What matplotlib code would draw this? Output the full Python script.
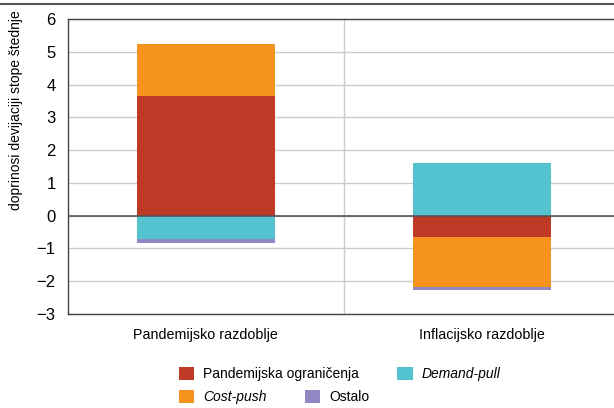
import numpy as np
import matplotlib.pyplot as plt

plt.rcParams['font.family'] = ['Liberation Sans Narrow', 'Liberation Sans', 'DejaVu Sans']

categories = ['Pandemijsko razdoblje', 'Inflacijsko razdoblje']
series = ['Pandemijska ograničenja', 'Demand-pull', 'Cost-push', 'Ostalo']
pandemijska = [3.65, -0.66]
demand_pull = [-0.72, 1.60]
cost_push = [1.60, -1.52]
ostalo = [-0.10, -0.09]
colors = ['#BF3A26', '#53C4CF', '#F6921E', '#8F88C2']

fig = plt.figure(figsize=(6.14, 4.08), dpi=100)
ax = fig.add_axes([68 / 614, 1 - 314 / 408, 560 / 614, 295 / 408])

x = np.arange(len(categories))
pos = np.zeros(len(categories))
neg = np.zeros(len(categories))
bars = []
for vals, col in zip([pandemijska, demand_pull, cost_push, ostalo], colors):
    vals = np.array(vals)
    bottom = np.where(vals >= 0, pos, neg)
    b = ax.bar(x, vals, width=0.5, bottom=bottom, color=col, zorder=3)
    bars.append(b)
    pos += np.where(vals >= 0, vals, 0)
    neg += np.where(vals < 0, vals, 0)

ax.set_xlim(-0.5, 1.53)
ax.set_ylim(-3, 6)
ax.set_yticks(range(-3, 7))
ax.set_yticklabels([str(v).replace('-', '\u2212') for v in range(-3, 7)], fontsize=12)
ax.set_xticks(x)
ax.set_xticklabels(categories, fontsize=10.3)
ax.tick_params(axis='y', length=0, pad=9)
ax.tick_params(axis='x', length=0, pad=10)
ax.set_ylabel('doprinosi devijaciji stope štednje', fontsize=10)
ax.yaxis.set_label_coords(-0.08, 0.69)

ax.grid(axis='y', color='#cccccc', linewidth=1, zorder=0)
ax.axhline(0, color='#555555', linewidth=1.2, zorder=4)
ax.axvline(0.5, color='#cccccc', linewidth=1, zorder=0)
for s in ['left', 'bottom', 'top']:
    ax.spines[s].set_color('#444444')
    ax.spines[s].set_linewidth(1)
ax.spines['right'].set_visible(False)

fig.add_artist(plt.Line2D([0, 1], [1 - 4 / 408, 1 - 4 / 408], color='#555555', linewidth=1.5))

leg_kw = dict(frameon=False, fontsize=10, handlelength=1.1, handleheight=1.1,
              handletextpad=0.65, columnspacing=2.75, borderaxespad=0, borderpad=0,
              loc='upper left')
leg1 = fig.legend([bars[0], bars[1]], [series[0], series[1]], ncol=2,
                  bbox_to_anchor=(179 / 614, 1 - 367 / 408), **leg_kw)
leg2 = fig.legend([bars[2], bars[3]], [series[2], series[3]], ncol=2,
                  bbox_to_anchor=(179 / 614, 1 - 390 / 408), **leg_kw)
for leg in (leg1, leg2):
    for t in leg.get_texts():
        if t.get_text() in ('Demand-pull', 'Cost-push'):
            t.set_style('italic')

fig.savefig('out.png', dpi=100)
